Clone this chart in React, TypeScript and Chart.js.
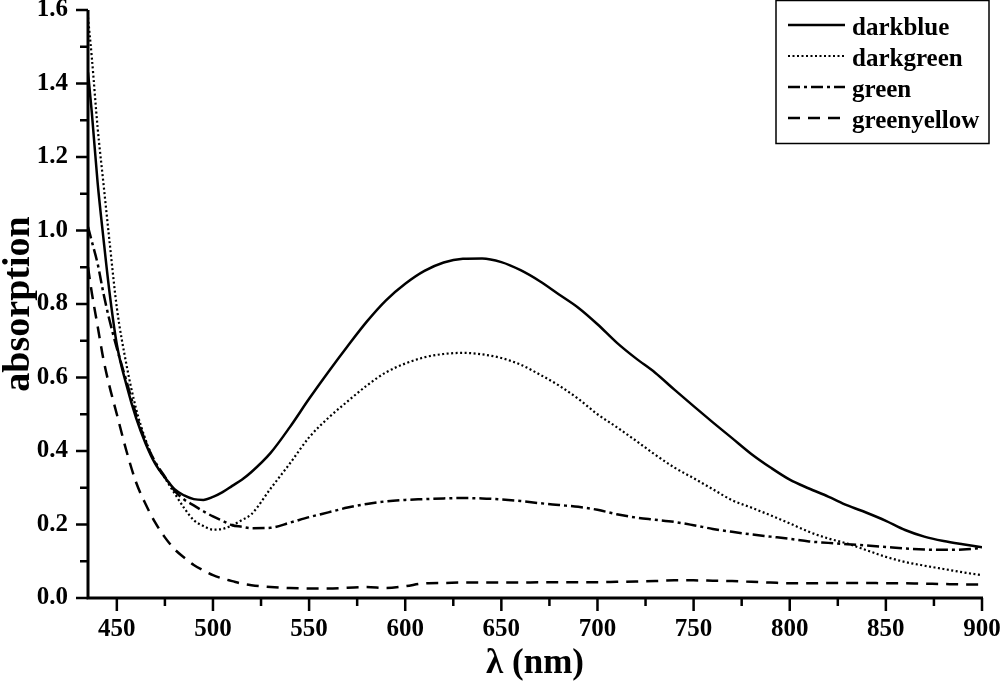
import React, { useEffect, useRef } from "react";
import { Chart, registerables } from "chart.js";

Chart.register(...registerables);

// ---- data ----
const wavelengths = [
  435, 437, 440, 443, 446, 450, 455, 460, 465, 470, 475, 480, 485, 490, 495, 500, 505, 510, 515, 520,
  530, 540, 550, 560, 570, 580, 590, 600, 610, 620, 630, 640, 650, 660, 670, 680, 690, 700, 710, 720,
  730, 740, 750, 760, 770, 780, 790, 800, 810, 820, 830, 840, 850, 860, 870, 880, 890, 900,
];

const darkblue = [
  1.43, 1.32, 1.13, 0.98, 0.84, 0.69, 0.58, 0.49, 0.42, 0.365, 0.328, 0.296, 0.279, 0.269, 0.267, 0.275, 0.288, 0.305, 0.322, 0.343,
  0.395, 0.465, 0.542, 0.615, 0.685, 0.752, 0.81, 0.855, 0.89, 0.913, 0.923, 0.924, 0.914, 0.892, 0.862, 0.826, 0.79, 0.745, 0.695, 0.652,
  0.613, 0.567, 0.522, 0.478, 0.435, 0.392, 0.355, 0.322, 0.298, 0.276, 0.252, 0.232, 0.21, 0.185, 0.167, 0.155, 0.146, 0.138,
];

const darkgreen = [
  1.58, 1.47, 1.28, 1.13, 0.98, 0.79, 0.635, 0.515, 0.43, 0.367, 0.326, 0.285, 0.245, 0.212, 0.196, 0.186, 0.188, 0.198, 0.212, 0.228,
  0.298, 0.366, 0.437, 0.49, 0.535, 0.578, 0.614, 0.638, 0.655, 0.664, 0.667, 0.663, 0.653, 0.635, 0.608, 0.578, 0.542, 0.5, 0.465, 0.428,
  0.39, 0.355, 0.326, 0.296, 0.266, 0.246, 0.225, 0.203, 0.18, 0.162, 0.148, 0.13, 0.112, 0.098, 0.088, 0.079, 0.07, 0.062,
];

const green = [
  1.01, 0.97, 0.91, 0.83, 0.76, 0.68, 0.59, 0.5, 0.425, 0.37, 0.33, 0.292, 0.268, 0.252, 0.236, 0.222, 0.21, 0.198, 0.194, 0.19,
  0.191, 0.205, 0.22, 0.233, 0.246, 0.256, 0.263, 0.267, 0.269, 0.271, 0.272, 0.271, 0.268, 0.264, 0.258, 0.253, 0.248, 0.24, 0.228, 0.219,
  0.213, 0.207, 0.198, 0.188, 0.18, 0.173, 0.167, 0.161, 0.154, 0.15, 0.146, 0.143, 0.139, 0.135, 0.132, 0.131, 0.132, 0.136,
];

const greenyellow = [
  0.9, 0.83, 0.74, 0.65, 0.58, 0.5, 0.4, 0.315, 0.255, 0.205, 0.165, 0.133, 0.11, 0.09, 0.075, 0.062, 0.053, 0.046, 0.039, 0.035,
  0.03, 0.027, 0.026, 0.026, 0.028, 0.03, 0.027, 0.032, 0.04, 0.041, 0.042, 0.042, 0.042, 0.042, 0.043, 0.043, 0.043, 0.043, 0.044, 0.045,
  0.046, 0.048, 0.048, 0.047, 0.046, 0.044, 0.042, 0.04, 0.04, 0.041, 0.041, 0.041, 0.04, 0.04, 0.039, 0.038, 0.037, 0.037,
];

const seriesNames = ["darkblue", "darkgreen", "green", "greenyellow"];
const xTicks = [450, 500, 550, 600, 650, 700, 750, 800, 850, 900];
const xMinorTicks = [475, 525, 575, 625, 675, 725, 775, 825, 875];
const yTicks = [0, 0.2, 0.4, 0.6, 0.8, 1.0, 1.2, 1.4, 1.6];
const yMinorTicks = [0.1, 0.3, 0.5, 0.7, 0.9, 1.1, 1.3, 1.5];
const xTitle = "λ (nm)";
const yTitle = "absorption";

const FONT = "'Liberation Serif', 'Times New Roman', serif";

const toPoints = (vals: number[]) => wavelengths.map((x, i) => ({ x, y: vals[i] }));

const axesPlugin = {
  id: "axesTicks",
  afterDatasetsDraw(chart: any) {
    const { ctx, chartArea: ca, scales } = chart;
    const xs = scales.x;
    const ys = scales.y;
    ctx.save();
    ctx.strokeStyle = "#000";
    ctx.lineWidth = 3;
    ctx.lineCap = "butt";
    ctx.beginPath();
    ctx.moveTo(ca.left, ca.top);
    ctx.lineTo(ca.left, ca.bottom);
    ctx.lineTo(ca.right + 1, ca.bottom);
    ctx.stroke();
    ctx.lineWidth = 2.5;
    ctx.beginPath();
    xTicks.forEach((v) => {
      const p = xs.getPixelForValue(v);
      ctx.moveTo(p, ca.bottom);
      ctx.lineTo(p, ca.bottom + 13);
    });
    xMinorTicks.forEach((v) => {
      const p = xs.getPixelForValue(v);
      ctx.moveTo(p, ca.bottom);
      ctx.lineTo(p, ca.bottom + 8);
    });
    yTicks.forEach((v) => {
      const p = ys.getPixelForValue(v);
      ctx.moveTo(ca.left - 12, p);
      ctx.lineTo(ca.left, p);
    });
    yMinorTicks.forEach((v) => {
      const p = ys.getPixelForValue(v);
      ctx.moveTo(ca.left - 8, p);
      ctx.lineTo(ca.left, p);
    });
    ctx.stroke();
    ctx.restore();
  },
};

const legendPlugin = {
  id: "boxLegend",
  afterDraw(chart: any) {
    const { ctx } = chart;
    ctx.save();
    ctx.strokeStyle = "#000";
    ctx.lineWidth = 1.5;
    ctx.strokeRect(776, 0.5, 213, 143);
    chart.data.datasets.forEach((ds: any, i: number) => {
      const base = 35 + i * 31;
      const ly = base - 10;
      ctx.beginPath();
      ctx.setLineDash(ds.borderDash || []);
      ctx.lineWidth = ds.borderWidth;
      ctx.strokeStyle = ds.borderColor;
      ctx.moveTo(788, ly);
      ctx.lineTo(845, ly);
      ctx.stroke();
      ctx.setLineDash([]);
      ctx.fillStyle = "#000";
      ctx.font = `bold 25px ${FONT}`;
      ctx.textBaseline = "alphabetic";
      ctx.textAlign = "left";
      ctx.fillText(ds.label, 852, base);
    });
    ctx.restore();
  },
};

export default function App() {
  const ref = useRef<HTMLCanvasElement | null>(null);

  useEffect(() => {
    if (!ref.current) return;
    const styles = [
      { dash: [], width: 2.5 },
      { dash: [2, 2.5], width: 2.2 },
      { dash: [12, 4, 3, 4], width: 2.5 },
      { dash: [12, 8], width: 2.5 },
    ];
    const values = [darkblue, darkgreen, green, greenyellow];
    const chart = new Chart(ref.current, {
      type: "line",
      data: {
        datasets: values.map((v, i) => ({
          label: seriesNames[i],
          data: toPoints(v),
          borderColor: "#000",
          backgroundColor: "#000",
          borderWidth: styles[i].width,
          borderDash: styles[i].dash,
          pointRadius: 0,
          fill: false,
          cubicInterpolationMode: "monotone" as const,
        })),
      },
      options: {
        responsive: false,
        animation: false,
        events: [],
        layout: { padding: { left: 0, top: 10, right: 18, bottom: 0 } },
        plugins: { legend: { display: false }, tooltip: { enabled: false } },
        scales: {
          x: {
            type: "linear",
            min: 435,
            max: 900,
            afterBuildTicks: (s: any) => {
              s.ticks = xTicks.map((value) => ({ value }));
            },
            afterFit: (s: any) => {
              s.height = 83;
              s.paddingLeft = 0;
              s.paddingRight = 0;
            },
            grid: { display: false, drawTicks: false },
            border: { display: false },
            ticks: {
              autoSkip: false,
              maxRotation: 0,
              padding: 17,
              color: "#000",
              font: { family: FONT, size: 25, weight: "bold" },
              callback: (v: any) => String(v),
            },
            title: {
              display: true,
              text: xTitle,
              color: "#000",
              padding: { top: 0, bottom: 0 },
              font: { family: FONT, size: 35, weight: "bold", lineHeight: 1 },
            },
          },
          y: {
            type: "linear",
            min: 0,
            max: 1.6,
            afterBuildTicks: (s: any) => {
              s.ticks = yTicks.map((value) => ({ value }));
            },
            afterFit: (s: any) => {
              s.width = 88;
              s.paddingTop = 0;
              s.paddingBottom = 0;
            },
            grid: { display: false, drawTicks: false },
            border: { display: false },
            ticks: {
              autoSkip: false,
              padding: 20,
              color: "#000",
              font: { family: FONT, size: 25, weight: "bold", lineHeight: 0.8 },
              callback: (v: any) => Number(v).toFixed(1),
            },
            title: {
              display: true,
              text: yTitle,
              color: "#000",
              padding: { top: 0, bottom: 0 },
              font: { family: FONT, size: 38, weight: "bold", lineHeight: 1 },
            },
          },
        },
      },
      plugins: [axesPlugin, legendPlugin],
    });
    return () => chart.destroy();
  }, []);

  return (
    <div style={{ position: "absolute", left: 0, top: 0, width: 1000, height: 681, background: "#fff" }}>
      <canvas ref={ref} width={1000} height={681} style={{ display: "block" }} />
    </div>
  );
}
